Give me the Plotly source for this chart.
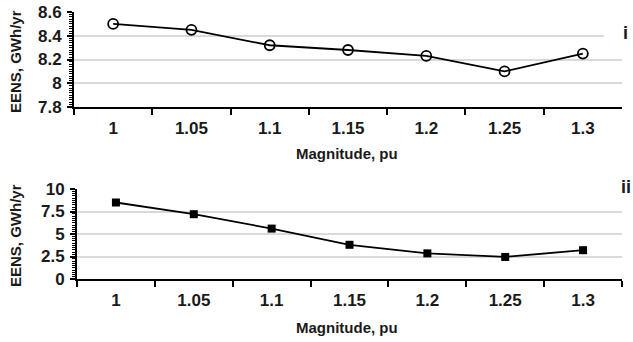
import plotly.graph_objects as go

categories = ["1", "1.05", "1.1", "1.15", "1.2", "1.25", "1.3"]
eens_i = [8.50, 8.45, 8.32, 8.28, 8.23, 8.10, 8.25]
eens_ii = [8.5, 7.2, 5.6, 3.8, 2.85, 2.45, 3.2]
yticks_i = [7.8, 8.0, 8.2, 8.4, 8.6]
yticklabels_i = ["7.8", "8", "8.2", "8.4", "8.6"]
yticks_ii = [0, 2.5, 5, 7.5, 10]
yticklabels_ii = ["0", "2.5", "5", "7.5", "10"]

W, H = 633, 342
FONT = "Liberation Sans, Arial, sans-serif"
TXT = "#1a1a1a"

fig = go.Figure()
fig.add_trace(go.Scatter(x=categories, y=eens_i, mode="lines+markers",
                         line=dict(color="black", width=1.8),
                         marker=dict(symbol="circle-open", size=10, color="black", line=dict(width=1.8)),
                         xaxis="x", yaxis="y", showlegend=False))
fig.add_trace(go.Scatter(x=categories, y=eens_ii, mode="lines+markers",
                         line=dict(color="black", width=1.8),
                         marker=dict(symbol="square", size=8, color="black"),
                         xaxis="x2", yaxis="y2", showlegend=False))

def px_x(p):
    return p / W

def px_y(p):
    return 1 - p / H

tickfont = dict(family=FONT, size=17, color=TXT, weight="bold")
common_x = dict(type="category", range=[-0.5, 6.5], showline=True, linecolor="black", linewidth=2,
                ticks="outside", ticklen=6, tickwidth=1.5, tickcolor="black", tickson="boundaries",
                showgrid=False, tickfont=tickfont, ticklabelstandoff=5, automargin=False)
common_y = dict(showline=True, linecolor="black", linewidth=2, ticks="outside", ticklen=5,
                tickwidth=1.5, tickcolor="black", showgrid=True, gridcolor="#d9d9d9", gridwidth=1.5,
                zeroline=False, tickfont=tickfont, automargin=False, ticklabelstandoff=2)

fig.update_layout(
    width=W, height=H, margin=dict(l=0, r=0, t=0, b=0, autoexpand=False),
    paper_bgcolor="white", plot_bgcolor="white",
    xaxis=dict(common_x, domain=[px_x(74), px_x(622)], anchor="y"),
    yaxis=dict(common_y, domain=[px_y(107), px_y(12)], anchor="x", range=[7.8, 8.6],
               tickvals=yticks_i, ticktext=yticklabels_i,
               minor=dict(ticks="outside", ticklen=3, dtick=0.02, tickcolor="black", tickwidth=1, showgrid=False)),
    xaxis2=dict(common_x, domain=[px_x(77), px_x(622)], anchor="y2"),
    yaxis2=dict(common_y, domain=[px_y(279), px_y(189)], anchor="x2", range=[0, 10],
                tickvals=yticks_ii, ticktext=yticklabels_ii,
                minor=dict(ticks="outside", ticklen=3, dtick=0.25, tickcolor="black", tickwidth=1, showgrid=False)),
    font=dict(family=FONT, color=TXT),
)

# white boxes behind the panel labels (cover the gridline ends)
fig.add_shape(type="rect", xref="paper", yref="paper", x0=px_x(604), x1=px_x(633), y0=px_y(48), y1=px_y(4),
              fillcolor="white", line=dict(width=0), layer="above")
fig.add_shape(type="rect", xref="paper", yref="paper", x0=px_x(607), x1=px_x(633), y0=px_y(200), y1=px_y(182),
              fillcolor="white", line=dict(width=0), layer="above")

ann = [
    dict(text="<b>EENS, GWh/yr</b>", x=px_x(15), y=px_y(62), textangle=-90, font=dict(size=15)),
    dict(text="<b>EENS, GWh/yr</b>", x=px_x(15), y=px_y(236), textangle=-90, font=dict(size=15)),
    dict(text="<b>Magnitude, pu</b>", x=px_x(347), y=px_y(153), font=dict(size=15)),
    dict(text="<b>Magnitude, pu</b>", x=px_x(347), y=px_y(327), font=dict(size=15)),
    dict(text="<b>i</b>", x=px_x(625), y=px_y(33), font=dict(size=18)),
    dict(text="<b>ii</b>", x=px_x(626), y=px_y(187), font=dict(size=18)),
]
for a in ann:
    a.update(xref="paper", yref="paper", showarrow=False, xanchor="center", yanchor="middle")
    a["font"].update(family=FONT, color=TXT)
fig.update_layout(annotations=ann)

fig.write_html("out.html", config={"displayModeBar": False},
               post_script="document.body.style.margin='0';")
